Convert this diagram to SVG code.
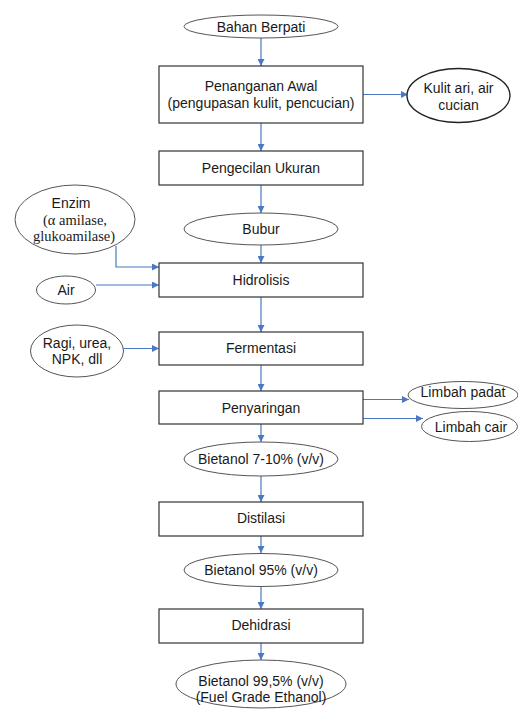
<svg xmlns="http://www.w3.org/2000/svg" width="518" height="709" viewBox="0 0 518 709">
<style>
.box{fill:#fff;stroke:#333;stroke-width:1.2}
.ell{fill:#fff;stroke:#555;stroke-width:1}
.ellb{fill:#fff;stroke:#222;stroke-width:1.4}
.t{font-family:"Liberation Sans",Arial,sans-serif;font-size:14px;fill:#1a1a1a;text-anchor:middle}
.s{font-family:"Liberation Serif","Times New Roman",serif;font-size:14.5px;fill:#1a1a1a;text-anchor:middle}
.c{fill:none;stroke:#4a78c4;stroke-width:1.2}
</style>
<defs>
<marker id="ah" viewBox="0 0 10 10" refX="10" refY="5" markerWidth="9" markerHeight="7" markerUnits="userSpaceOnUse" orient="auto">
<path d="M0,0 L10,5 L0,10 z" fill="#4a78c4"/>
</marker>
</defs>
<rect width="518" height="709" fill="#fff"/>
<g id="connectors">
<path class="c" d="M261,38 V66" marker-end="url(#ah)"/>
<path class="c" d="M363,94.5 H408" marker-end="url(#ah)"/>
<path class="c" d="M261,123 V151" marker-end="url(#ah)"/>
<path class="c" d="M261,185 V213" marker-end="url(#ah)"/>
<path class="c" d="M261,245 V263" marker-end="url(#ah)"/>
<path class="c" d="M116,246 V267 H159" marker-end="url(#ah)"/>
<path class="c" d="M96,285 H159" marker-end="url(#ah)"/>
<path class="c" d="M261,297 V332" marker-end="url(#ah)"/>
<path class="c" d="M123.5,348.5 H159" marker-end="url(#ah)"/>
<path class="c" d="M261,365 V391" marker-end="url(#ah)"/>
<path class="c" d="M363,399.5 H409" marker-end="url(#ah)"/>
<path class="c" d="M363,418.5 H423" marker-end="url(#ah)"/>
<path class="c" d="M261,424 V442" marker-end="url(#ah)"/>
<path class="c" d="M261,476 V502" marker-end="url(#ah)"/>
<path class="c" d="M261,536 V553" marker-end="url(#ah)"/>
<path class="c" d="M261,587 V609" marker-end="url(#ah)"/>
<path class="c" d="M261,643 V660" marker-end="url(#ah)"/>
</g>
<g id="bahan"><ellipse class="ell" cx="261" cy="26.5" rx="77" ry="11.5"/><text class="t" x="261" y="31.5">Bahan Berpati</text></g>
<g id="penanganan"><rect class="box" x="159" y="66" width="204" height="57"/><text class="t" x="261" y="91">Penanganan Awal</text><text class="t" x="261" y="108">(pengupasan kulit, pencucian)</text></g>
<g id="kulit"><ellipse class="ellb" cx="458.5" cy="95.5" rx="51.5" ry="27"/><text class="t" x="458.5" y="93">Kulit ari, air</text><text class="t" x="458.5" y="110">cucian</text></g>
<g id="pengecilan"><rect class="box" x="159" y="151" width="204" height="34"/><text class="t" x="261" y="172.5">Pengecilan Ukuran</text></g>
<g id="bubur"><ellipse class="ell" cx="261" cy="229" rx="77" ry="16"/><text class="t" x="261" y="234">Bubur</text></g>
<g id="enzim"><ellipse class="ell" cx="75" cy="219.5" rx="60" ry="34.5"/><text class="t" x="71" y="207.5">Enzim</text><text class="s" x="75" y="225">(α amilase,</text><text class="s" x="74" y="240.5">glukoamilase)</text></g>
<g id="hidrolisis"><rect class="box" x="159" y="263" width="204" height="34"/><text class="t" x="261" y="285">Hidrolisis</text></g>
<g id="air"><ellipse class="ell" cx="66" cy="290" rx="29.5" ry="14"/><text class="t" x="66" y="295">Air</text></g>
<g id="fermentasi"><rect class="box" x="159" y="332" width="204" height="33"/><text class="t" x="261" y="353">Fermentasi</text></g>
<g id="ragi"><ellipse class="ell" cx="77" cy="351" rx="46.5" ry="26"/><text class="t" x="77" y="348">Ragi, urea,</text><text class="t" x="77" y="364">NPK, dll</text></g>
<g id="penyaringan"><rect class="box" x="159" y="391" width="204" height="33"/><text class="t" x="261" y="412.5">Penyaringan</text></g>
<g id="limbahpadat"><ellipse class="ell" cx="463" cy="395" rx="55" ry="13.5"/><text class="t" x="463" y="396.5">Limbah padat</text></g>
<g id="limbahcair"><ellipse class="ell" cx="469.5" cy="426.5" rx="48" ry="15"/><text class="t" x="471" y="431.5">Limbah cair</text></g>
<g id="bietanol710"><ellipse class="ell" cx="261" cy="459" rx="77" ry="17"/><text class="t" x="261" y="464">Bietanol 7-10% (v/v)</text></g>
<g id="distilasi"><rect class="box" x="159" y="502" width="204" height="34"/><text class="t" x="261" y="523">Distilasi</text></g>
<g id="bietanol95"><ellipse class="ell" cx="261" cy="570" rx="77" ry="16.5"/><text class="t" x="261" y="574.5">Bietanol 95% (v/v)</text></g>
<g id="dehidrasi"><rect class="box" x="159" y="609" width="204" height="34"/><text class="t" x="261" y="630">Dehidrasi</text></g>
<g id="bietanol995"><ellipse class="ell" cx="261" cy="684" rx="85" ry="24"/><text class="t" x="261" y="685.5">Bietanol 99,5% (v/v)</text><text class="t" x="261" y="702">(Fuel Grade Ethanol)</text></g>
</svg>
